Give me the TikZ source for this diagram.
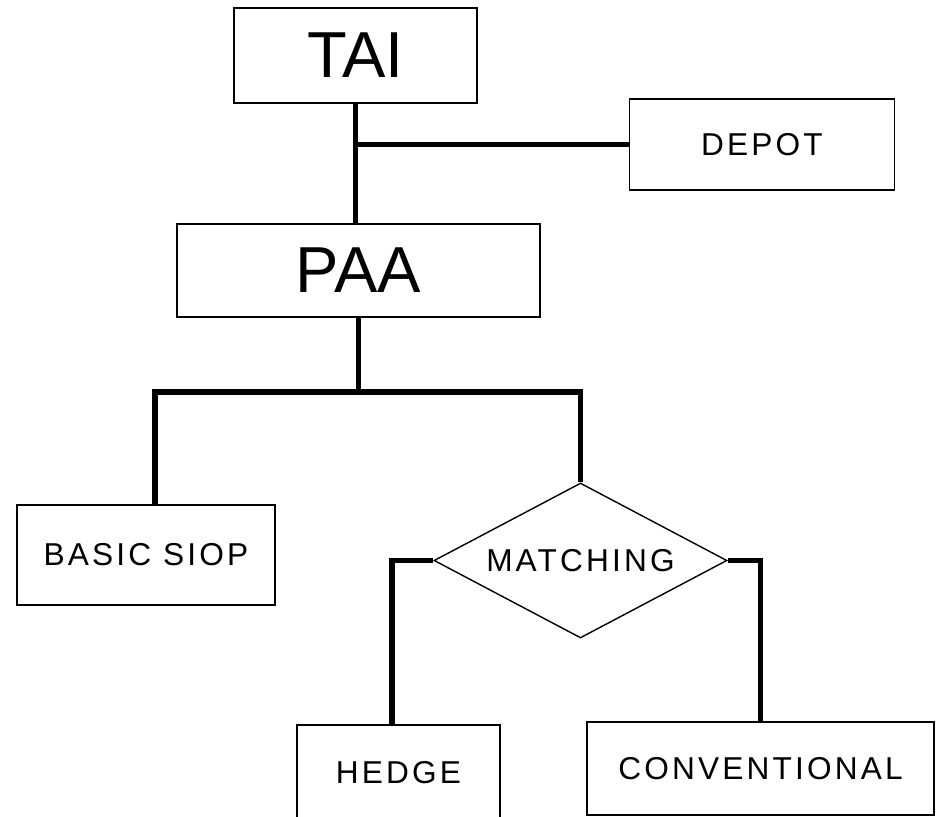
\documentclass[tikz,border=0pt]{standalone}
\usepackage{fontspec}
\setmainfont{Liberation Sans}
\newfontfamily\spaced[LetterSpace=10]{Liberation Sans}
\usetikzlibrary{shapes.geometric, positioning, calc}

\begin{document}
\begin{tikzpicture}[
  x=0.2mm, y=-0.2mm,
  box/.style={draw, thick, inner sep=0pt, align=center,
              font=\fontsize{18}{20}\selectfont\spaced},
  bigbox/.style={box, font=\fontsize{37}{40}\selectfont},
  choice/.style={box, diamond, aspect=1.9},
  link/.style={line width=3.4pt}]
\useasboundingbox (0,0) rectangle (936,817);
\node[bigbox, minimum width=4.86cm, minimum height=1.90cm] (tai) at (355.5,55.5) {TAI};
\node[box, minimum width=5.30cm, minimum height=1.82cm] (depot) at (762,144.5) {DEPOT};
\node[bigbox, minimum width=7.26cm, minimum height=1.86cm] (paa) at (358.5,270.5) {PAA};
\node[box, minimum width=5.16cm, minimum height=2.00cm] (siop) at (146,555) {BASIC SIOP};
\node[choice, minimum width=5.86cm, minimum height=3.10cm] (match) at (580.5,560.5) {MATCHING};
\node[box, minimum width=4.06cm, minimum height=1.92cm] (hedge) at (398.5,773) {HEDGE};
\node[box, minimum width=6.94cm, minimum height=1.86cm] (conv) at (760.5,768.5) {CONVENTIONAL};
\coordinate (fork) at (360,392);
% upper tree
\draw[link] (tai.south) -- (tai.south |- paa.north);
\draw[link] (tai.south |- depot.west) -- (depot.west);
\draw[link] (paa.south) -- (paa.south |- fork);
\draw[link] ([xshift=1.8mm]siop.north) |- (fork) -| (match.north);
% branches of the diamond
\draw[link] (match.west) -| ([xshift=-1.3mm]hedge.north);
\draw[link] (match.east) -| (conv.north);
\end{tikzpicture}
\end{document}
